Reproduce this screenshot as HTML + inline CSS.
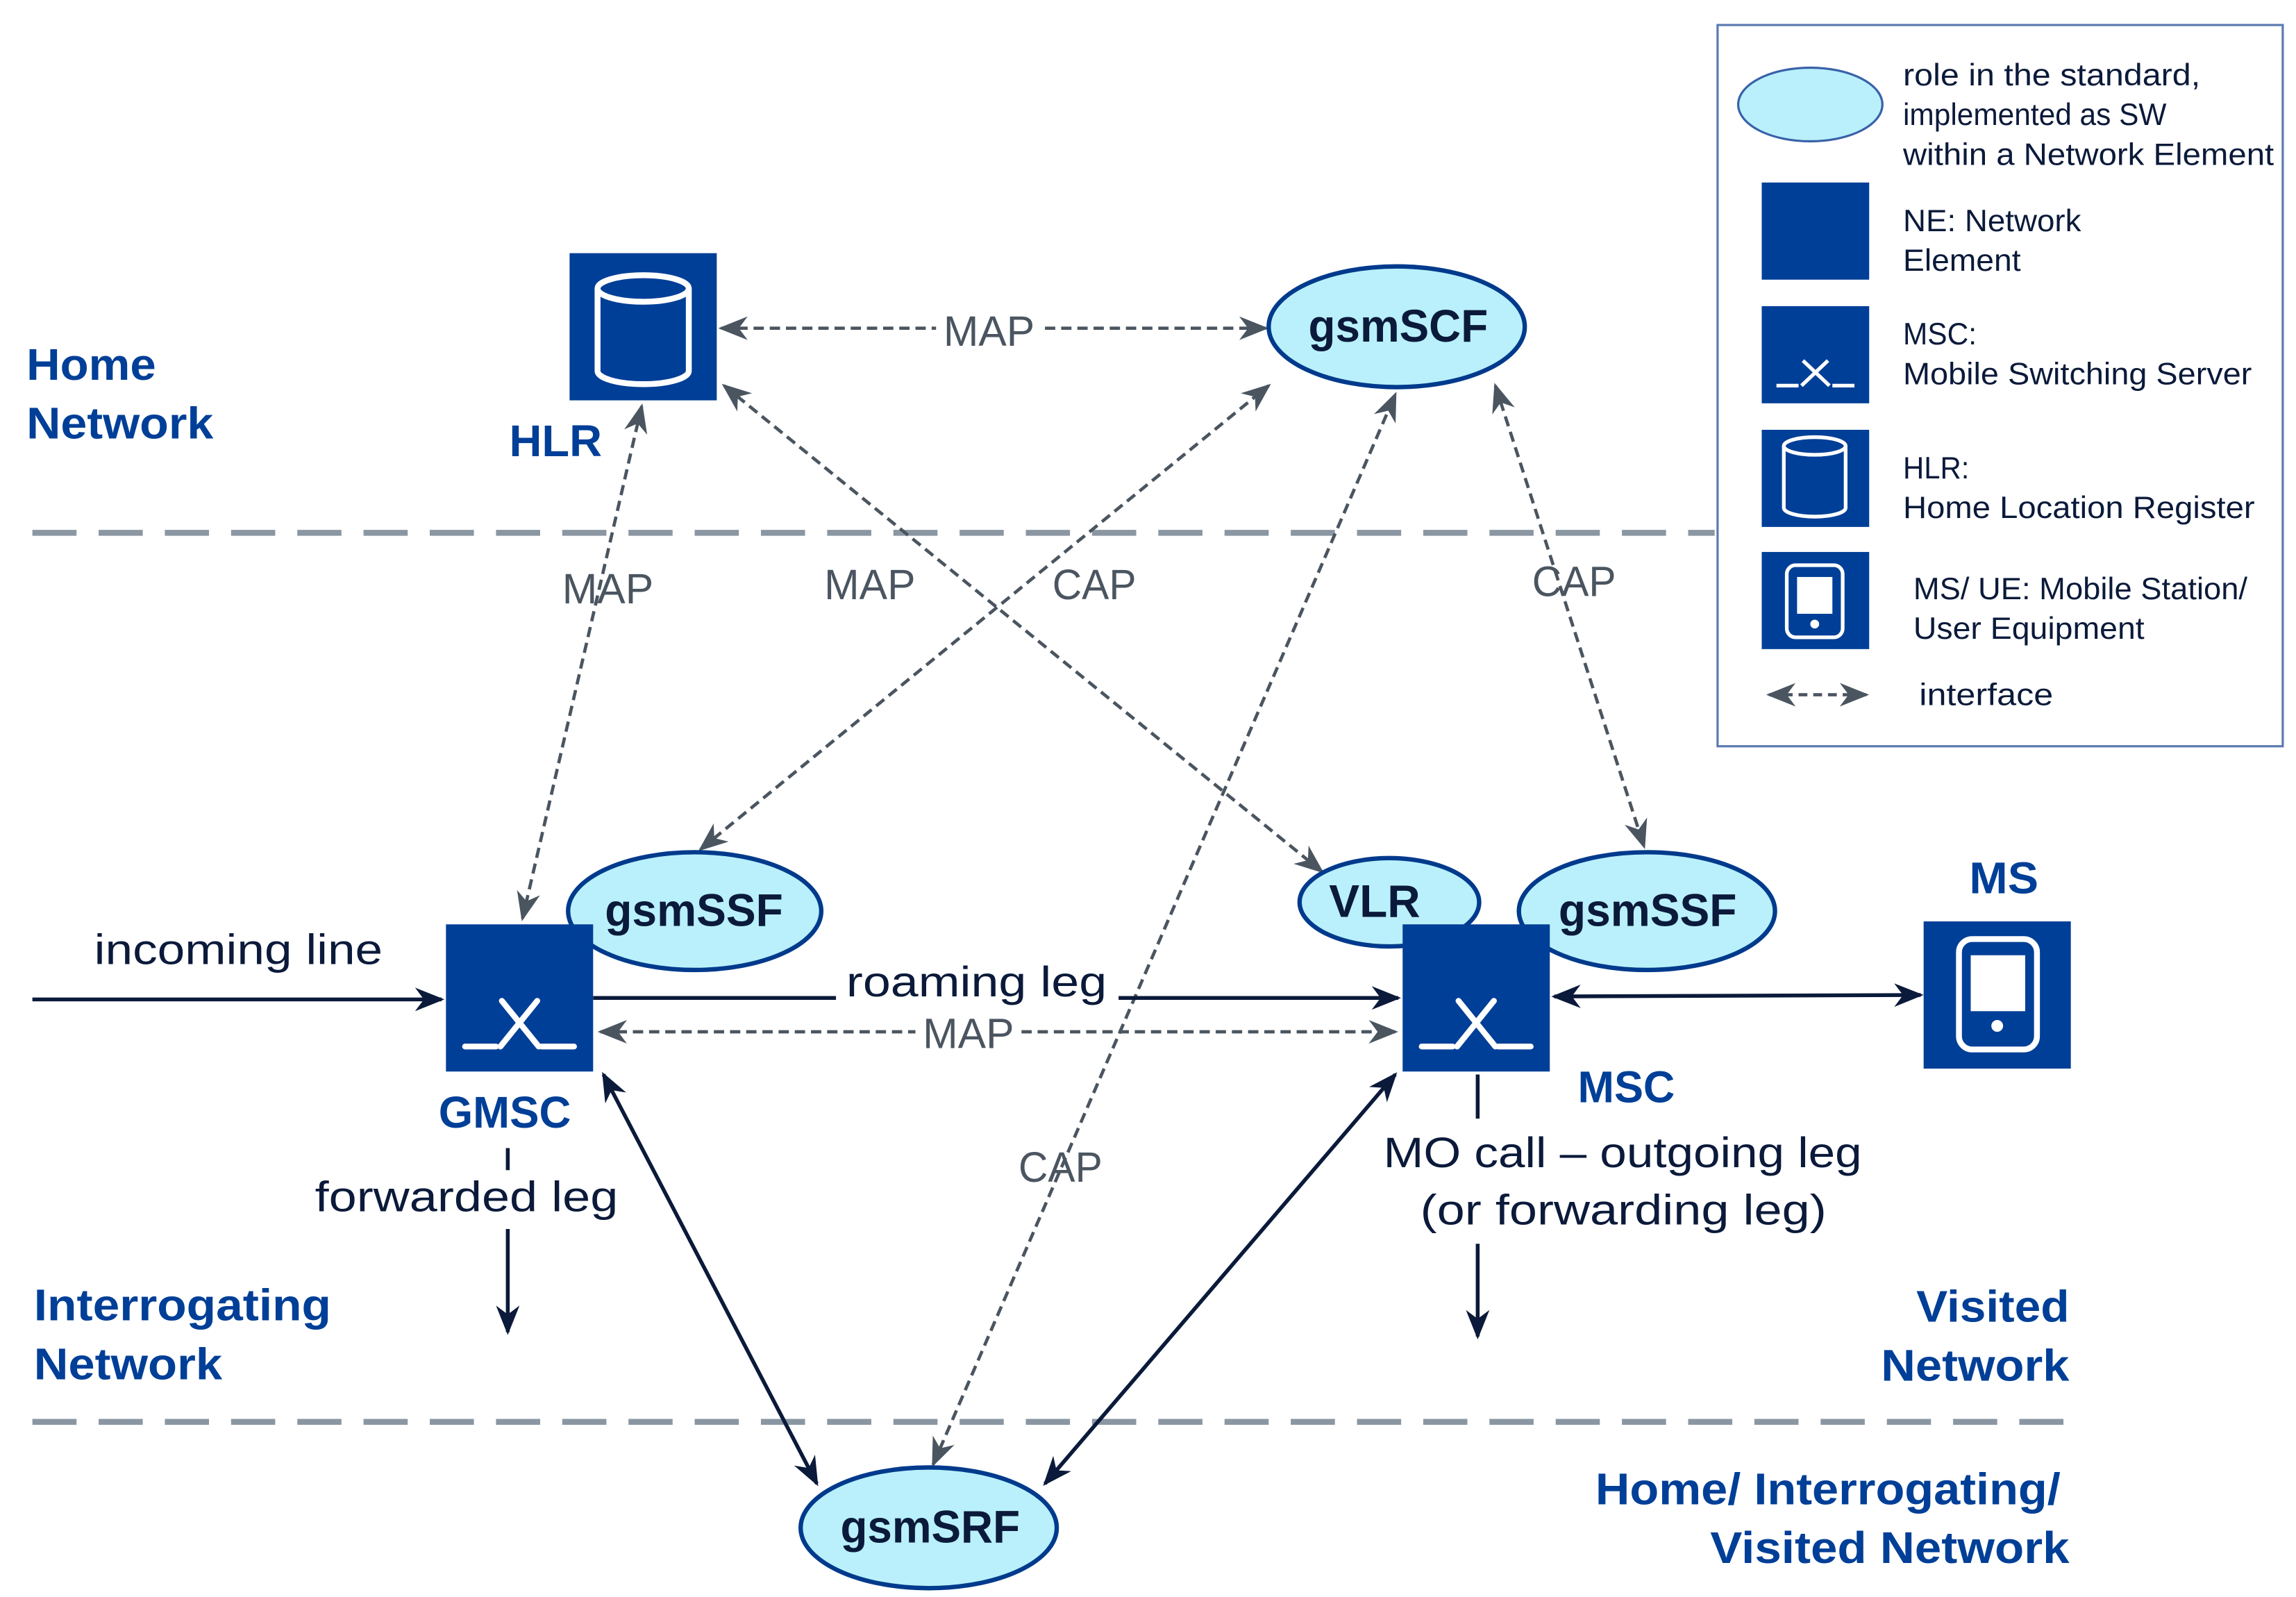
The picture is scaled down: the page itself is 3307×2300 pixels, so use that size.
<!DOCTYPE html>
<html><head><meta charset="utf-8"><style>html,body{margin:0;padding:0;background:#fff}svg{display:block}</style></head>
<body>
<svg width="3307" height="2300" viewBox="0 0 1560 1085" preserveAspectRatio="none" xmlns="http://www.w3.org/2000/svg" font-family="Liberation Sans, sans-serif">
<defs>
<marker id="g" viewBox="0 0 20 16" refX="18" refY="8" markerWidth="20" markerHeight="16" markerUnits="userSpaceOnUse" orient="auto-start-reverse"><path d="M0,0 L20,8 L0,16 L6,8 Z" fill="#4a5560"/></marker>
<marker id="b" viewBox="0 0 20 16" refX="18" refY="8" markerWidth="20" markerHeight="16" markerUnits="userSpaceOnUse" orient="auto-start-reverse"><path d="M0,0 L20,8 L0,16 L6,8 Z" fill="#0b1a3a"/></marker>
</defs>
<rect width="1560" height="1085" fill="#fff"/>
<line x1="22" y1="362" x2="1165" y2="362" stroke="#8a97a3" stroke-width="4" stroke-dasharray="30,15"/>
<line x1="22" y1="966" x2="1405" y2="966" stroke="#8a97a3" stroke-width="4" stroke-dasharray="30,15"/>

<g fill="#003f97" font-weight="bold" font-size="30" lengthAdjust="spacingAndGlyphs">
<text x="18" y="258" textLength="88" lengthAdjust="spacingAndGlyphs">Home</text><text x="18" y="298" textLength="127" lengthAdjust="spacingAndGlyphs">Network</text>
<text x="23" y="897" textLength="202" lengthAdjust="spacingAndGlyphs">Interrogating</text><text x="23" y="937" textLength="128" lengthAdjust="spacingAndGlyphs">Network</text>
<text x="1302" y="898" textLength="104" lengthAdjust="spacingAndGlyphs">Visited</text><text x="1278" y="938" textLength="128" lengthAdjust="spacingAndGlyphs">Network</text>
<text x="1084" y="1022" textLength="316" lengthAdjust="spacingAndGlyphs">Home/ Interrogating/</text><text x="1162" y="1062" textLength="244" lengthAdjust="spacingAndGlyphs">Visited Network</text>
<text x="346" y="310" textLength="63" lengthAdjust="spacingAndGlyphs">HLR</text>
<text x="298" y="766" textLength="90" lengthAdjust="spacingAndGlyphs">GMSC</text>
<text x="1072" y="749" textLength="66" lengthAdjust="spacingAndGlyphs">MSC</text>
<text x="1338" y="607" textLength="47" lengthAdjust="spacingAndGlyphs">MS</text>
</g>

<g stroke="#4a5560" stroke-width="2.2" stroke-dasharray="7,4" fill="none" marker-start="url(#g)" marker-end="url(#g)">
<line x1="490" y1="223" x2="860" y2="223"/>
<line x1="436" y1="276" x2="355" y2="624"/>
<line x1="492" y1="262" x2="898" y2="592"/>
<line x1="476" y1="577" x2="862" y2="262"/>
<line x1="1016" y1="262" x2="1117" y2="575"/>
<line x1="634" y1="995" x2="948" y2="268"/>
<line x1="408" y1="701" x2="948" y2="701"/>
</g>
<g stroke="#0b1a3a" stroke-width="2.6" fill="none">
<line x1="22" y1="679" x2="300" y2="679" marker-end="url(#b)"/>
<line x1="403" y1="678" x2="950" y2="678" marker-end="url(#b)"/>
<line x1="1056" y1="677" x2="1305" y2="676" marker-start="url(#b)" marker-end="url(#b)"/>
<line x1="410" y1="730" x2="555" y2="1008" marker-start="url(#b)" marker-end="url(#b)"/>
<line x1="948" y1="730" x2="710" y2="1008" marker-start="url(#b)" marker-end="url(#b)"/>
<line x1="345" y1="780" x2="345" y2="795"/>
<line x1="345" y1="835" x2="345" y2="905" marker-end="url(#b)"/>
<line x1="1004" y1="730" x2="1004" y2="760"/>
<line x1="1004" y1="845" x2="1004" y2="908" marker-end="url(#b)"/>
</g>

<g font-size="29" fill="#4a5560">
<rect x="636" y="208" width="72" height="30" fill="#fff"/><text x="641" y="235" textLength="62" lengthAdjust="spacingAndGlyphs">MAP</text>
<rect x="622" y="686" width="72" height="30" fill="#fff"/><text x="627" y="712" textLength="62" lengthAdjust="spacingAndGlyphs">MAP</text>
<text x="382" y="410" textLength="62" lengthAdjust="spacingAndGlyphs">MAP</text>
<text x="560" y="407" textLength="62" lengthAdjust="spacingAndGlyphs">MAP</text>
<text x="715" y="407" textLength="57" lengthAdjust="spacingAndGlyphs">CAP</text>
<text x="1041" y="405" textLength="57" lengthAdjust="spacingAndGlyphs">CAP</text>
<text x="692" y="803" textLength="57" lengthAdjust="spacingAndGlyphs">CAP</text>
</g>
<g font-size="29" fill="#0b1a3a">
<text x="64" y="655" textLength="196" lengthAdjust="spacingAndGlyphs">incoming line</text>
<rect x="568" y="650" width="192" height="40" fill="#fff"/><text x="575" y="677" textLength="177" lengthAdjust="spacingAndGlyphs">roaming leg</text>
<text x="214" y="823" textLength="206" lengthAdjust="spacingAndGlyphs">forwarded leg</text>
<text x="940" y="793" textLength="325" lengthAdjust="spacingAndGlyphs">MO call – outgoing leg</text>
<text x="965" y="832" textLength="276" lengthAdjust="spacingAndGlyphs">(or forwarding leg)</text>
</g>

<g fill="#b9f0fb" stroke="#003a8c" stroke-width="3">
<ellipse cx="949" cy="222" rx="87" ry="41"/>
<ellipse cx="472" cy="619" rx="86" ry="40"/>
<ellipse cx="944" cy="613" rx="61" ry="30"/>
<ellipse cx="1119" cy="619" rx="87" ry="40"/>
<ellipse cx="631" cy="1038" rx="87" ry="41"/>
</g>
<g font-size="31" font-weight="bold" fill="#0b1a3a">
<text x="889" y="232" textLength="122" lengthAdjust="spacingAndGlyphs">gsmSCF</text>
<text x="411" y="629" textLength="121" lengthAdjust="spacingAndGlyphs">gsmSSF</text>
<text x="903" y="623" textLength="62" lengthAdjust="spacingAndGlyphs">VLR</text>
<text x="1059" y="629" textLength="121" lengthAdjust="spacingAndGlyphs">gsmSSF</text>
<text x="571" y="1048" textLength="122" lengthAdjust="spacingAndGlyphs">gsmSRF</text>
</g>

<g fill="#003f97">
<rect x="387" y="172" width="100" height="100"/>
<rect x="303" y="628" width="100" height="100"/>
<rect x="953" y="628" width="100" height="100"/>
<rect x="1307" y="626" width="100" height="100"/>
</g>
<g stroke="#fff" stroke-width="4" fill="none">
<path d="M406,196 A31,9 0 0 1 468,196 L468,252 A31,9 0 0 1 406,252 Z"/>
<path d="M406,196 A31,9 0 0 0 468,196"/>
<path d="M316,711 L337,711 M368,711 L390,711 M341,680 L366,711 M365,680 L340,711" stroke-linecap="round"/>
<path d="M966,711 L987,711 M1018,711 L1040,711 M991,680 L1016,711 M1015,680 L990,711" stroke-linecap="round"/>
<rect x="1331" y="638" width="53" height="75" rx="9"/>
</g>
<rect x="1339" y="649" width="37" height="38" fill="#fff"/>
<circle cx="1357" cy="697" r="4" fill="#fff"/>

<rect x="1167" y="17" width="384" height="490" fill="#fff" stroke="#5a7ab0" stroke-width="1.5"/>
<ellipse cx="1230" cy="71" rx="49" ry="25" fill="#b9f0fb" stroke="#3a62a8" stroke-width="1.5"/>
<g fill="#003f97">
<rect x="1197" y="124" width="73" height="66"/>
<rect x="1197" y="208" width="73" height="66"/>
<rect x="1197" y="292" width="73" height="66"/>
<rect x="1197" y="375" width="73" height="66"/>
</g>
<g stroke="#fff" stroke-width="2.5" fill="none">
<path d="M1207,262 L1222,262 M1245,262 L1260,262 M1225,245 L1243,262 M1242,245 L1224,262"/>
<path d="M1212,303 A21,6 0 0 1 1254,303 L1254,345 A21,6 0 0 1 1212,345 Z"/>
<path d="M1212,303 A21,6 0 0 0 1254,303"/>
<rect x="1214" y="384" width="38" height="49" rx="6"/>
</g>
<rect x="1221" y="392" width="24" height="25" fill="#fff"/>
<circle cx="1233" cy="424" r="3" fill="#fff"/>
<line x1="1202" y1="472" x2="1268" y2="472" stroke="#4a5560" stroke-width="2.2" stroke-dasharray="6,4" marker-start="url(#g)" marker-end="url(#g)"/>
<g font-size="21" fill="#0b1a3a">
<text x="1293" y="58" textLength="202" lengthAdjust="spacingAndGlyphs">role in the standard,</text>
<text x="1293" y="85" textLength="179" lengthAdjust="spacingAndGlyphs">implemented as SW</text>
<text x="1293" y="112" textLength="252" lengthAdjust="spacingAndGlyphs">within a Network Element</text>
<text x="1293" y="157" textLength="121" lengthAdjust="spacingAndGlyphs">NE: Network</text>
<text x="1293" y="184" textLength="80" lengthAdjust="spacingAndGlyphs">Element</text>
<text x="1293" y="234" textLength="50" lengthAdjust="spacingAndGlyphs">MSC:</text>
<text x="1293" y="261" textLength="237" lengthAdjust="spacingAndGlyphs">Mobile Switching Server</text>
<text x="1293" y="325" textLength="45" lengthAdjust="spacingAndGlyphs">HLR:</text>
<text x="1293" y="352" textLength="239" lengthAdjust="spacingAndGlyphs">Home Location Register</text>
<text x="1300" y="407" textLength="227" lengthAdjust="spacingAndGlyphs">MS/ UE: Mobile Station/</text>
<text x="1300" y="434" textLength="157" lengthAdjust="spacingAndGlyphs">User Equipment</text>
<text x="1304" y="479" textLength="91" lengthAdjust="spacingAndGlyphs">interface</text>
</g>
</svg>
</body></html>
